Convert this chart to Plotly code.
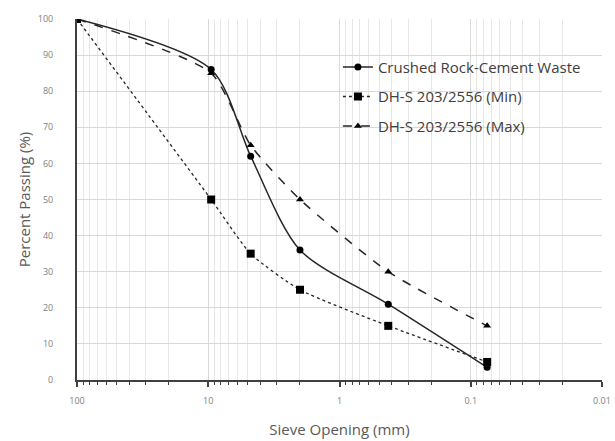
import plotly.graph_objects as go

sieve_mm = [100, 9.5, 4.75, 2.0, 0.425, 0.075]
crushed = [100, 86, 62, 36, 21, 3.5]
dhs_min = [100, 50, 35, 25, 15, 5]
dhs_max = [100, 85, 65, 50, 30, 15]

names = ["Crushed Rock-Cement Waste", "DH-S 203/2556 (Min)", "DH-S 203/2556 (Max)"]

FONT = "Open Sans, Noto Sans, sans-serif"

fig = go.Figure()
fig.add_trace(go.Scatter(
    x=sieve_mm, y=crushed, name=names[0], mode="lines+markers", legendgroup="a",
    line=dict(color="#262626", width=1.5, shape="spline", smoothing=0.8),
    marker=dict(symbol="circle", size=7, color="#000000")))
fig.add_trace(go.Scatter(
    x=sieve_mm, y=dhs_min, name=names[1], mode="lines+markers", legendgroup="b",
    line=dict(color="#262626", width=1.3, dash="dot", shape="spline", smoothing=0.6),
    marker=dict(symbol="square", size=8, color="#000000")))
fig.add_trace(go.Scatter(
    x=sieve_mm, y=dhs_max, name=names[2], mode="lines+markers", legendgroup="c",
    line=dict(color="#262626", width=1.5, dash="dash", shape="spline", smoothing=0.6),
    marker=dict(symbol="triangle-up", size=7, color="#000000")))

fig.update_layout(
    width=615, height=441,
    margin=dict(l=77, r=13, t=19, b=61),
    paper_bgcolor="white", plot_bgcolor="white",
    font=dict(family=FONT, color="#595959"),
    showlegend=True,
    legend=dict(x=0.497, y=0.912, xanchor="left", yanchor="top",
                bgcolor="rgba(0,0,0,0)", font=dict(size=15, color="#404040"),
                tracegroupgap=7),
    xaxis=dict(
        type="log", range=[2, -2], automargin=False,
        tickvals=[100, 10, 1, 0.1, 0.01], ticktext=["100", "10", "1", "0.1", "0.01"],
        tickfont=dict(size=9, color="#808080"), ticklabelstandoff=6,
        showgrid=True, gridcolor="#d9d9d9", gridwidth=1,
        showline=True, linecolor="#404040", linewidth=2,
        ticks="outside", ticklen=5, tickcolor="#404040", tickwidth=2,
        minor=dict(ticks="outside", ticklen=3, tickcolor="#404040", tickwidth=1,
                   showgrid=True, gridcolor="#e6e6e6", gridwidth=1,
                   dtick="D1"),
        title=dict(text="Sieve Opening (mm)", font=dict(size=15, color="#595959"), standoff=19),
        zeroline=False,
    ),
    yaxis=dict(
        range=[0, 100], dtick=10, automargin=False,
        tickfont=dict(size=9, color="#808080"), ticklabelstandoff=20,
        showgrid=True, gridcolor="#d9d9d9", gridwidth=1,
        showline=True, linecolor="#404040", linewidth=2,
        ticks="", zeroline=False,
        title=dict(text="Percent Passing (%)", font=dict(size=15, color="#595959"), standoff=3),
    ),
)

fig.write_html("out.html", config={"displayModeBar": False},
               post_script="document.body.style.margin='0';")
